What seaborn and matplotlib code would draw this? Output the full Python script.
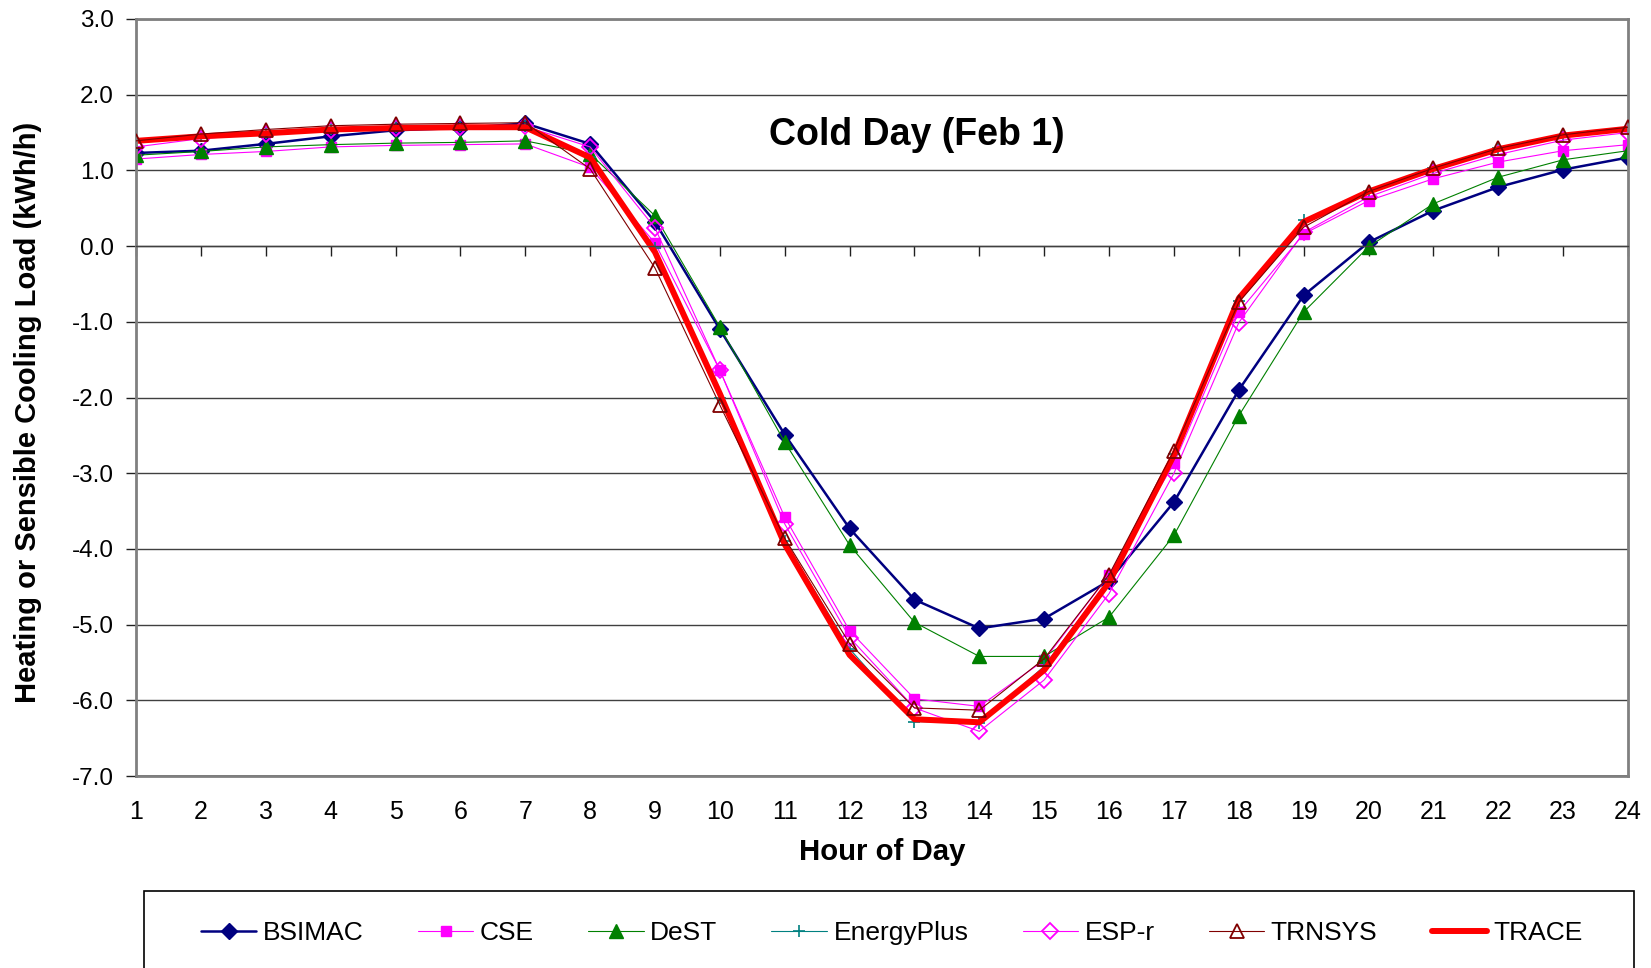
import numpy as np
import pandas as pd
import matplotlib
matplotlib.use("Agg")
import matplotlib.pyplot as plt
from matplotlib.patches import Rectangle
import seaborn as sns

# --- data (kWh/h per hour of day) ---
hours = list(range(1, 25))
bsimac = [1.23, 1.26, 1.35, 1.45, 1.53, 1.56, 1.62, 1.35, 0.32, -1.10, -2.49, -3.73,
          -4.67, -5.05, -4.92, -4.42, -3.38, -1.90, -0.65, 0.05, 0.47, 0.78, 1.01, 1.17]
cse = [1.15, 1.21, 1.25, 1.31, 1.33, 1.34, 1.35, 1.04, 0.04, -1.64, -3.58, -5.08,
       -5.98, -6.08, -5.47, -4.34, -2.87, -0.87, 0.16, 0.60, 0.89, 1.11, 1.26, 1.34]
dest = [1.20, 1.25, 1.31, 1.34, 1.36, 1.37, 1.39, 1.22, 0.40, -1.07, -2.59, -3.95,
        -4.97, -5.42, -5.42, -4.90, -3.82, -2.24, -0.87, -0.01, 0.56, 0.91, 1.14, 1.26]
energyplus = [1.38, 1.45, 1.50, 1.55, 1.57, 1.58, 1.58, 1.18, -0.03, -2.01, -3.90, -5.32,
              -6.28, -6.30, -5.55, -4.40, -2.74, -0.72, 0.34, 0.73, 1.03, 1.29, 1.46, 1.55]
esp_r = [1.31, 1.42, 1.48, 1.53, 1.56, 1.57, 1.58, 1.31, 0.24, -1.64, -3.67, -5.17,
         -6.10, -6.41, -5.73, -4.59, -3.00, -1.01, 0.18, 0.65, 0.96, 1.21, 1.40, 1.50]
trnsys = [1.39, 1.48, 1.54, 1.59, 1.61, 1.62, 1.63, 1.02, -0.29, -2.10, -3.86, -5.25,
          -6.10, -6.13, -5.45, -4.34, -2.70, -0.74, 0.25, 0.72, 1.03, 1.29, 1.47, 1.57]
trace = [1.39, 1.45, 1.49, 1.54, 1.56, 1.57, 1.57, 1.17, -0.08, -1.95, -3.94, -5.40,
         -6.25, -6.29, -5.60, -4.44, -2.76, -0.69, 0.32, 0.72, 1.02, 1.28, 1.46, 1.55]

models = ["BSIMAC", "CSE", "DeST", "EnergyPlus", "ESP-r", "TRNSYS", "TRACE"]
series = [bsimac, cse, dest, energyplus, esp_r, trnsys, trace]

df = pd.DataFrame({
    "hour": hours * len(models),
    "model": np.repeat(models, len(hours)),
    "load": np.concatenate(series),
})

# Excel-like styles
styles = {
    "BSIMAC":     dict(color="#000080", lw=1.8, marker="D", ms=8, mfc="#000080", mec="#000080", mew=1),
    "CSE":        dict(color="#FF00FF", lw=0.8, marker="s", ms=6.5, mfc="#FF00FF", mec="#FF00FF", mew=1),
    "DeST":       dict(color="#008000", lw=0.8, marker="^", ms=9.5, mfc="#008000", mec="#008000", mew=1),
    "EnergyPlus": dict(color="#008080", lw=0.8, marker="+", ms=9, mfc="#008080", mec="#008080", mew=1.2),
    "ESP-r":      dict(color="#FF00FF", lw=0.8, marker="D", ms=8, mfc="none", mec="#FF00FF", mew=1.3),
    "TRNSYS":     dict(color="#800000", lw=0.8, marker="^", ms=9.5, mfc="none", mec="#800000", mew=1.3, zorder=3),
    "TRACE":      dict(color="#FF0000", lw=4.3),
}

sns.set_theme(style="white")
plt.rcParams["font.family"] = ["Liberation Sans", "DejaVu Sans"]
plt.rcParams["text.color"] = "black"
plt.rcParams["xtick.color"] = "black"
plt.rcParams["ytick.color"] = "black"

fig = plt.figure(figsize=(16.51, 9.68), dpi=100)
ax = fig.add_axes([0.0824, 0.1983, 0.9037, 0.7821])

for m in models:
    sns.lineplot(data=df[df["model"] == m], x="hour", y="load", ax=ax,
                 label=m, errorbar=None, **styles[m])

ax.set_xlim(1, 24)
ax.set_ylim(-7, 3)
yt = list(range(-7, 4))
ax.set_yticks(yt)
ax.set_yticklabels([f"{v:.1f}" for v in yt])
ax.yaxis.grid(True, color="#404040", lw=1.0)
ax.xaxis.grid(False)

# x axis crosses at 0 (ticks there), labels at the bottom
ax.spines["bottom"].set_position(("data", 0))
ax.spines["bottom"].set_color("#404040")
ax.spines["bottom"].set_linewidth(1.0)
ax.set_xticks(hours)
ax.tick_params(axis="x", direction="out", length=7, width=1, color="#202020",
               bottom=True, labelbottom=False)
ax.tick_params(axis="y", direction="out", length=7, width=1, color="#202020",
               left=True, pad=9, labelsize=17.5, labelcolor="black")
for s in ["left", "top", "right"]:
    ax.spines[s].set_color("#808080")
    ax.spines[s].set_linewidth(2)

sec = ax.secondary_xaxis("bottom")
sec.set_xticks(hours)
sec.set_xticklabels([str(h) for h in hours])
sec.tick_params(length=0, pad=17, labelsize=18, labelcolor="black")
sec.spines["bottom"].set_color("#808080")
sec.spines["bottom"].set_linewidth(2)

ax.set_xlabel("Hour of Day", fontsize=21.2, fontweight="bold", color="black")
ax.xaxis.set_label_coords(0.5, -0.082)
ax.set_ylabel("Heating or Sensible Cooling Load (kWh/h)", fontsize=21,
              fontweight="bold", color="black")
ax.yaxis.set_label_coords(-0.063, 0.481)

ax.text(0.5235, 0.847, "Cold Day (Feb 1)", transform=ax.transAxes,
        ha="center", va="center", fontsize=27, fontweight="bold", color="black")

handles, labels = ax.get_legend_handles_labels()
if ax.get_legend():
    ax.get_legend().remove()
fig.legend(handles, labels, loc="center", bbox_to_anchor=(892 / 1651, 1 - 933 / 968),
           ncol=7, frameon=False, fontsize=19, handlelength=2.1,
           handletextpad=0.25, columnspacing=2.05)
fig.add_artist(Rectangle((144 / 1651, -0.05), (1634 - 144) / 1651, (1 - 891 / 968) + 0.05,
                         transform=fig.transFigure, fill=False, ec="black", lw=1.2,
                         clip_on=False))

fig.savefig("out.png", dpi=100)
plt.close()
